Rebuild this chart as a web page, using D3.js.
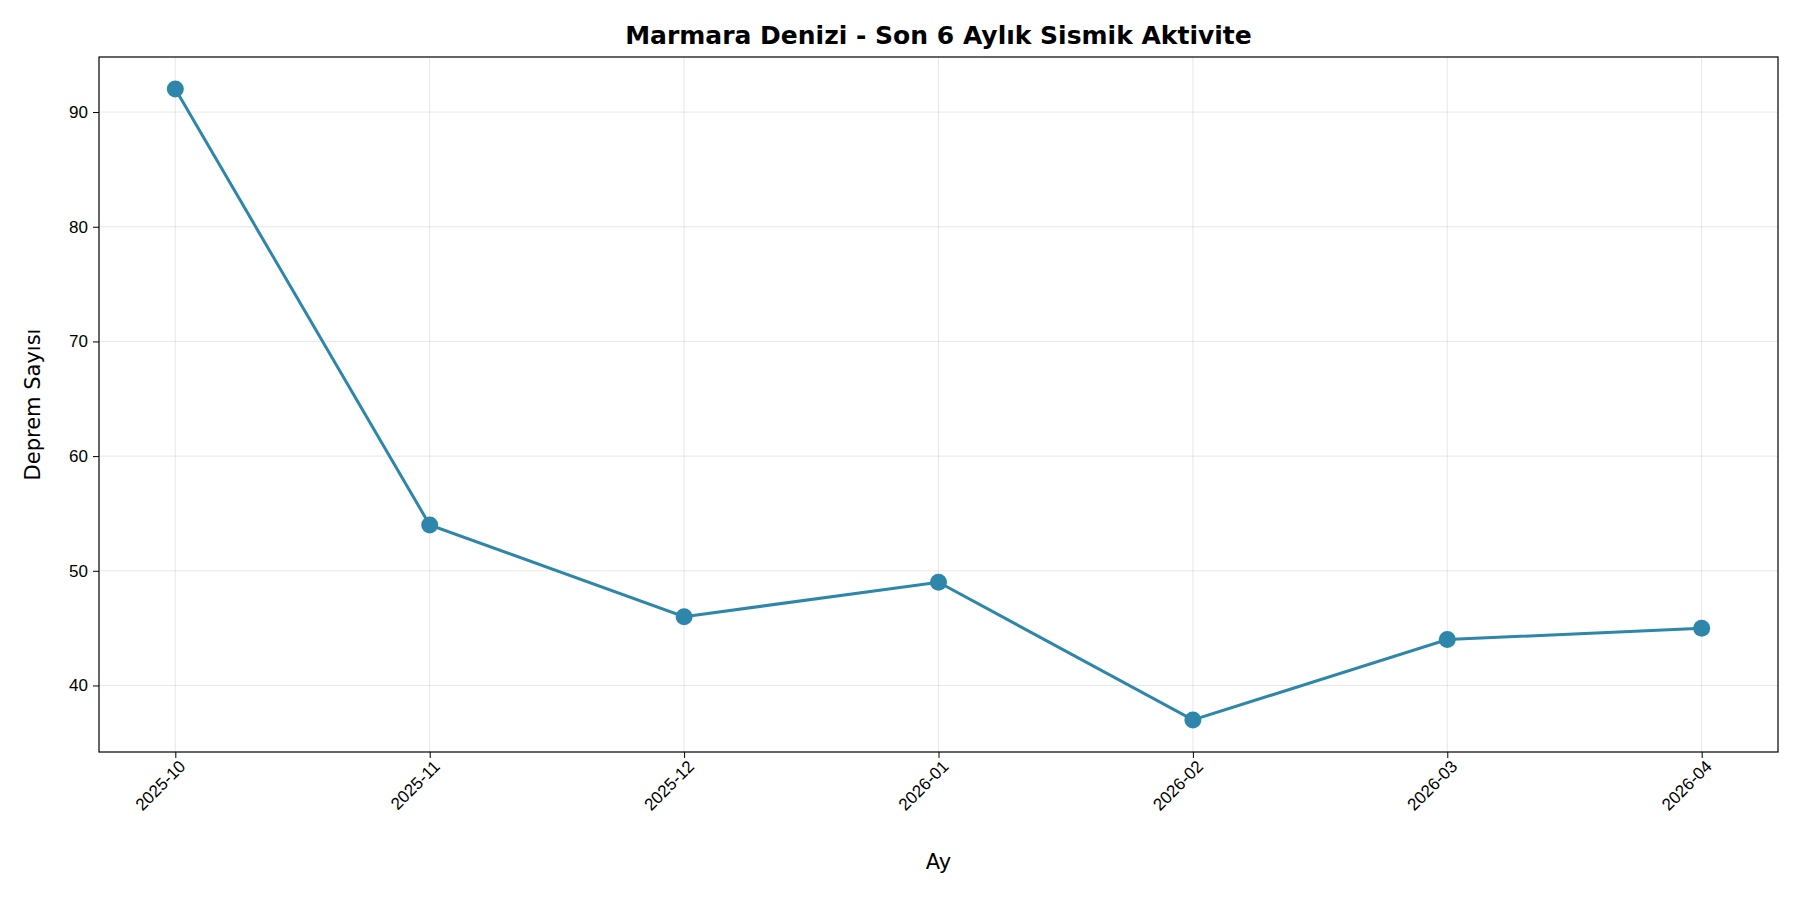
<!DOCTYPE html>
<html><head><meta charset="utf-8">
<script src="https://cdn.jsdelivr.net/npm/d3@7"></script>
<style>body{margin:0;background:#fff}svg{font-family:"DejaVu Sans",sans-serif}</style>
</head><body><svg id="c" width="1800" height="900"></svg>
<script>
const months = ["2025-10","2025-11","2025-12","2026-01","2026-02","2026-03","2026-04"];
const counts = [92,54,46,49,37,44,45];
const yTicks = [40,50,60,70,80,90];

const svg = d3.select("#c");
const m = {l:99, r:1778, t:57, b:752};
const x = d3.scalePoint().domain(months).range([m.l,m.r]).padding(0.3);
const y = d3.scaleLinear().domain([34.2,94.8]).range([m.b,m.t]);
const color = "#2E86AB";

svg.append("g").selectAll("line").data(months).join("line")
  .attr("x1",d=>x(d)).attr("x2",d=>x(d)).attr("y1",m.t).attr("y2",m.b)
  .attr("stroke","#b0b0b0").attr("stroke-opacity",0.3).attr("stroke-width",1);
svg.append("g").selectAll("line").data(yTicks).join("line")
  .attr("x1",m.l).attr("x2",m.r).attr("y1",d=>y(d)).attr("y2",d=>y(d))
  .attr("stroke","#b0b0b0").attr("stroke-opacity",0.3).attr("stroke-width",1);

const xa = svg.append("g").attr("transform",`translate(0,${m.b})`)
  .call(d3.axisBottom(x).tickSize(6).tickPadding(4));
xa.select(".domain").remove();
xa.attr("font-size",null);
xa.selectAll("text").style("font-size","17px").attr("fill","#000")
  .attr("text-anchor","end").attr("dx","-0.2em").attr("dy","0.5em")
  .attr("transform","rotate(-45)");
const ya = svg.append("g").attr("transform",`translate(${m.l},0)`)
  .call(d3.axisLeft(y).tickValues(yTicks).tickSize(6).tickPadding(5));
ya.select(".domain").remove();
ya.selectAll("text").style("font-size","17px").attr("fill","#000");

svg.append("rect").attr("x",m.l).attr("y",m.t).attr("width",m.r-m.l).attr("height",m.b-m.t)
  .attr("fill","none").attr("stroke","#000").attr("stroke-width",1.2);

const data = months.map((d,i)=>({m:d,v:counts[i]}));
svg.append("path").datum(data)
  .attr("d",d3.line().x(d=>x(d.m)).y(d=>y(d.v)))
  .attr("fill","none").attr("stroke",color).attr("stroke-width",3);
svg.append("g").selectAll("circle").data(data).join("circle")
  .attr("cx",d=>x(d.m)).attr("cy",d=>y(d.v)).attr("r",8.5).attr("fill",color);

svg.append("text").attr("x",(m.l+m.r)/2).attr("y",44).attr("text-anchor","middle")
  .attr("font-size",25).attr("font-weight","bold").text("Marmara Denizi - Son 6 Aylık Sismik Aktivite");
svg.append("text").attr("x",(m.l+m.r)/2).attr("y",869).attr("text-anchor","middle")
  .attr("font-size",21).text("Ay");
svg.append("text").attr("transform",`translate(40,${(m.t+m.b)/2}) rotate(-90)`)
  .attr("text-anchor","middle").attr("font-size",21).text("Deprem Sayısı");
</script></body></html>
